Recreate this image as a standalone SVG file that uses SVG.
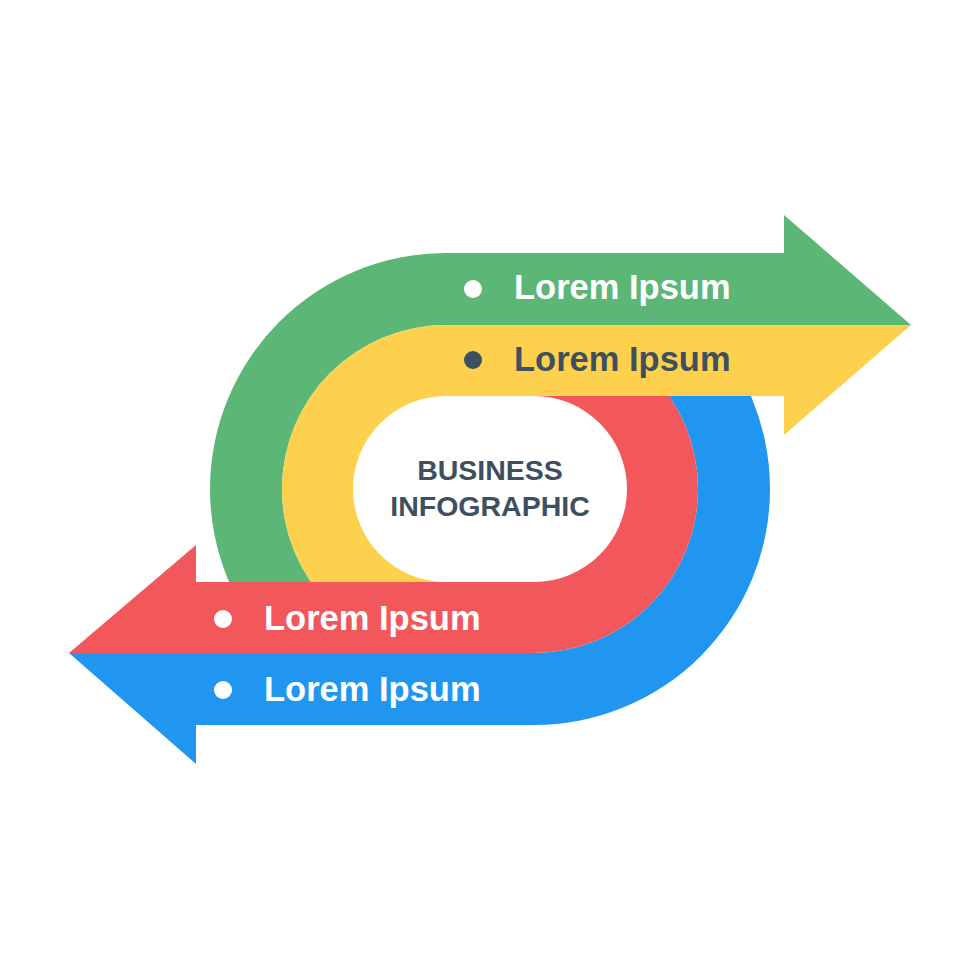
<svg xmlns="http://www.w3.org/2000/svg" width="980" height="980" viewBox="0 0 980 980">
<style>
.lbl{font-family:"Liberation Sans",Arial,sans-serif;font-weight:bold;font-size:34.5px}
.w{fill:#ffffff}
.d{fill:#3e4f5f}
.ctr{font-family:"Liberation Sans",Arial,sans-serif;font-weight:bold;font-size:28.5px;fill:#3e4f5f}
</style>
<defs>
<clipPath id="lowerClip"><rect x="0" y="396" width="980" height="584"/></clipPath>
</defs>
<rect width="980" height="980" fill="#ffffff"/>
<g id="connectors"/>
<g id="green-band">
<path fill="#5cb776" d="M784 253 H446 A236 236 0 0 0 210 489 A236 236 0 0 0 446 725 V653 A164 164 0 0 1 282 489 A164 164 0 0 1 446 325 H784 Z"/>
<polygon fill="#5cb776" points="784,215 911,325 784,325"/>
</g>
<g id="yellow-band">
<path fill="#fdd14d" d="M784 325 H446 A164 164 0 0 0 282 489 A164 164 0 0 0 446 653 V582 A93 93 0 0 1 353 489 A93 93 0 0 1 446 396 H784 Z"/>
<polygon fill="#fdd14d" points="784,325 911,325 784,435"/>
</g>
<g id="lower-arrows" clip-path="url(#lowerClip)">
<g id="blue-band">
<path fill="#2196f0" d="M196 653 H534 A164 164 0 0 0 698 489 A164 164 0 0 0 534 325 V253 A236 236 0 0 1 770 489 A236 236 0 0 1 534 725 H196 Z"/>
<polygon fill="#2196f0" points="196,653 69,653 196,764"/>
</g>
<g id="red-band">
<path fill="#f2575b" d="M196 582 H534 A93 93 0 0 0 627 489 A93 93 0 0 0 534 396 V325 A164 164 0 0 1 698 489 A164 164 0 0 1 534 653 H196 Z"/>
<polygon fill="#f2575b" points="196,545 69,653 196,653"/>
</g>
</g>
<g id="label-green">
<circle class="w" cx="473" cy="289" r="9"/>
<text class="lbl w" x="514" y="299">Lorem Ipsum</text>
</g>
<g id="label-yellow">
<circle class="d" cx="473" cy="360" r="9"/>
<text class="lbl d" x="514" y="371">Lorem Ipsum</text>
</g>
<g id="label-red">
<circle class="w" cx="223" cy="619" r="9"/>
<text class="lbl w" x="264" y="630">Lorem Ipsum</text>
</g>
<g id="label-blue">
<circle class="w" cx="223" cy="690" r="9"/>
<text class="lbl w" x="264" y="701">Lorem Ipsum</text>
</g>
<g id="center">
<text class="ctr" x="490" y="480" text-anchor="middle">BUSINESS</text>
<text class="ctr" x="490" y="516" text-anchor="middle">INFOGRAPHIC</text>
</g>
</svg>
